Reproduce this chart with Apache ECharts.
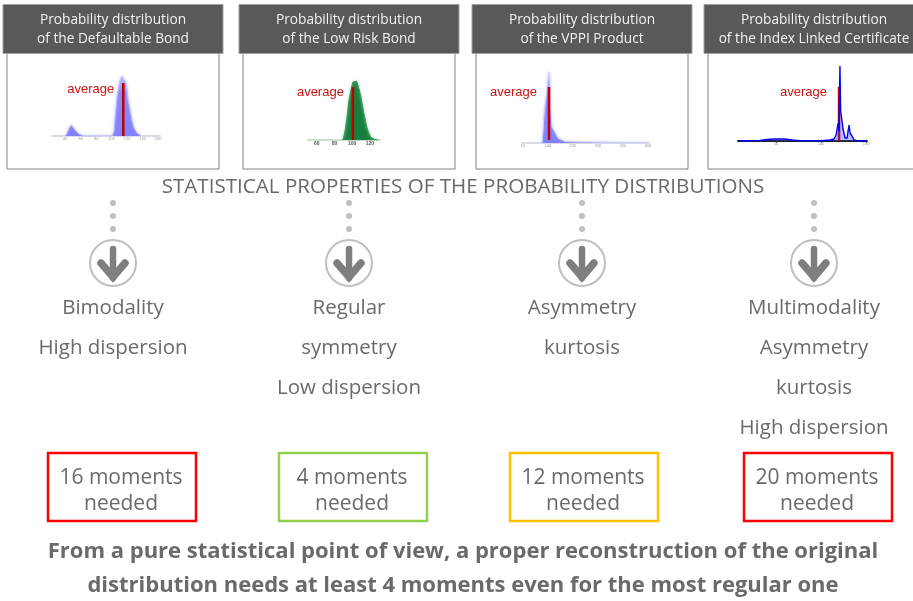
<!DOCTYPE html>
<html>
<head>
<meta charset="utf-8">
<title>Probability distributions</title>
<style>
  html, body { margin: 0; padding: 0; background: #fff; }
  #chart { width: 913px; height: 601px; }
</style>
<script src="https://cdn.jsdelivr.net/npm/echarts@6/dist/echarts.min.js"></script>
</head>
<body>
<div id="chart"></div>
<script>
// header titles
var headerLine1 = ['Probability distribution', 'Probability distribution', 'Probability distribution', 'Probability distribution']
var headerLine2 = ['of the Defaultable Bond', 'of the Low Risk Bond', 'of the VPPI Product', 'of the Index Linked Certificate']
var mainTitle = 'STATISTICAL PROPERTIES OF THE PROBABILITY DISTRIBUTIONS'

// [x, density]
var defaultableDist = [[40,0],[42.6,3],[45,8],[48,11],[50,9],[54,5],[58,2],[64.5,0],[100.6,0],[103,5],[104.5,20],[107,40],[110,54],[113.5,60],[116,61],[119,52],[121,38],[124,25],[126.5,15],[129,8],[133,3],[138,0]]
var lowRiskDist = [[89.4,0],[91.7,8],[94,22],[96,38],[98.5,50],[100.8,58],[103,60],[105,59],[107,54],[109.8,44],[112,33],[114.4,22],[116.6,13],[118.9,7],[121,3],[124.5,1],[129,0]]
var vppiDist = [[88,0],[90,12],[92,28],[94,38],[96,45],[98,55],[100,65],[102,71],[104,62],[106,30],[108,16],[112,14],[116,9],[120,5],[124,3],[134,1.5],[164,1],[204,0.8],[254,0.5],[300,0.3]]
var indexLinkedDist = [[8,0],[32,0.5],[40,1.5],[49,2],[60,2],[68,1],[77,0.3],[100,0.3],[110,1],[114.4,2],[116.7,6],[119,18],[120,10],[121,75],[121.8,30],[122,31],[123.3,20],[124.4,12],[126.7,3],[129,3],[130,10],[131.2,16],[132.2,8],[133.3,9],[134.4,5],[136.7,1],[141,0],[151,0]]

// average marker: x, bottom, top
var defaultableAvg = [115, 0, 53]
var lowRiskAvg = [100.8, 0, 53]
var vppiAvg = [102, 3, 56]
var indexLinkedAvg = [120, 0, 54]

// tick labels (the first, third and fourth are too blurred to read for sure)
var defaultableTicks = [40, 60, 80, 100, 120, 140, 160]
var lowRiskTicks = [60, 80, 100, 120]
var vppiTicks = [50, 100, 150, 200, 250, 300]
var indexLinkedTicks = [50, 100, 150]

// properties under each arrow
var properties = [
  ['Bimodality', 'High dispersion'],
  ['Regular', 'symmetry', 'Low dispersion'],
  ['Asymmetry', 'kurtosis'],
  ['Multimodality', 'Asymmetry', 'kurtosis', 'High dispersion']
]
var momentsLabels = ['16 moments', '4 moments', '12 moments', '20 moments']
var momentsWord = 'needed'
var footerLines = [
  'From a pure statistical point of view, a proper reconstruction of the original',
  'distribution needs at least 4 moments even for the most regular one'
]

var FONT = '"Open Sans", sans-serif'
var TEXT_GREY = '#6a6a6a'

// layout of the page
var headerX = [3, 239, 472, 704]
var frameX = [7, 243, 476, 708]
var arrowX = [113, 349, 582, 814]
var boxX = [48, 279, 510, 744]
var boxColor = ['#ff0000', '#92d050', '#ffc000', '#ff0000']
var boxTextX = [121, 352, 583, 817]

function makeText(text, x, y, size, color, weight) {
  return {
    type: 'text',
    style: {
      text: text, x: x, y: y,
      fontSize: size, fontFamily: FONT, fontWeight: weight || 'normal',
      fill: color, textAlign: 'center', textVerticalAlign: 'middle'
    }
  }
}

var graphics = []
for (var i = 0; i < 4; i++) {
  // frame of the plot, the last one runs off the page
  graphics.push({
    type: 'rect',
    shape: { x: frameX[i], y: 53, width: 212, height: 116 },
    style: { fill: 'none', stroke: '#808080', lineWidth: 1 }
  })
  graphics.push({
    type: 'rect',
    shape: { x: headerX[i], y: 4.5, width: 220, height: 49 },
    style: { fill: '#595959', stroke: '#a0a0a0', lineWidth: 1 }
  })
  var cx = i == 3 ? 814 : headerX[i] + 110
  graphics.push(makeText(headerLine1[i], cx, 20, 13.7, '#f2f2f2'))
  graphics.push(makeText(headerLine2[i], cx, 39, 13.7, '#f2f2f2'))

  // dots
  var dotsY = [203, 216, 229]
  for (var d = 0; d < 3; d++) {
    graphics.push({
      type: 'circle',
      shape: { cx: arrowX[i], cy: dotsY[d], r: 3 },
      style: { fill: '#bfbfbf' }
    })
  }
  // arrow in a circle
  graphics.push({
    type: 'circle',
    shape: { cx: arrowX[i], cy: 263, r: 23 },
    style: { fill: 'none', stroke: '#bfbfbf', lineWidth: 2 }
  })
  graphics.push({
    type: 'line',
    shape: { x1: arrowX[i], y1: 249, x2: arrowX[i], y2: 278 },
    style: { stroke: '#7f7f7f', lineWidth: 6.5, lineCap: 'round' }
  })
  graphics.push({
    type: 'polyline',
    shape: { points: [[arrowX[i] - 12, 263], [arrowX[i], 277], [arrowX[i] + 12, 263]] },
    style: { fill: 'none', stroke: '#7f7f7f', lineWidth: 7.5, lineCap: 'round', lineJoin: 'miter' }
  })

  for (var p = 0; p < properties[i].length; p++) {
    graphics.push(makeText(properties[i][p], arrowX[i], 308 + p * 40, 20.5, TEXT_GREY))
  }

  // moments box
  graphics.push({
    type: 'rect',
    shape: { x: boxX[i], y: 453, width: 148, height: 68 },
    style: { fill: 'none', stroke: boxColor[i], lineWidth: 2.5 }
  })
  graphics.push(makeText(momentsLabels[i], boxTextX[i], 478, 21, TEXT_GREY))
  graphics.push(makeText(momentsWord, boxTextX[i], 504, 21, TEXT_GREY))
}
graphics.push(makeText(mainTitle, 463, 187, 20.6, TEXT_GREY))
graphics.push(makeText(footerLines[0], 463, 552, 22, TEXT_GREY, 'bold'))
graphics.push(makeText(footerLines[1], 463, 586, 22, TEXT_GREY, 'bold'))

// lavender plots fade out towards the peak
var lavenderFill = {
  type: 'linear', x: 0, y: 1, x2: 0, y2: 0,
  colorStops: [
    { offset: 0, color: '#8080fb' },
    { offset: 0.7, color: '#8a8afb' },
    { offset: 1, color: '#c4c4fd' }
  ]
}

// one small plot: grid, axes, distribution and the average marker
var plots = [
  { dist: defaultableDist, avg: defaultableAvg, ticks: defaultableTicks, min: 23, max: 162.4, left: 52, width: 108, base: 136, fill: lavenderFill, line: '#c4c4fd', blur: '#a8a8ff', axis: '#dcdce8', avgLabelGap: 9, avgLabelDy: 6 },
  { dist: lowRiskDist, avg: lowRiskAvg, ticks: lowRiskTicks, min: 50, max: 131.5, left: 308, width: 72, base: 140, fill: '#15803c', line: '#3f9a60', blur: '#8fc8a3', axis: '#c9dfcd', avgLabelGap: 9, avgLabelDy: 5 },
  { dist: vppiDist, avg: vppiAvg, ticks: vppiTicks, min: 48, max: 302, left: 522, width: 127, base: 143, fill: lavenderFill, line: '#d0d0fd', blur: '#b8b8ff', axis: '#dcdce8', avgLabelGap: 12, avgLabelDy: 5 },
  { dist: indexLinkedDist, avg: indexLinkedAvg, ticks: indexLinkedTicks, min: 8, max: 151, left: 738, width: 129, base: 141, fill: 'rgba(60,60,255,0.35)', line: '#0000ff', blur: 'transparent', axis: '#222222', avgLabelGap: 12, avgLabelDy: 5 }
]

var grids = [], xAxes = [], yAxes = [], series = []
plots.forEach(function (pl, n) {
  grids.push({ left: pl.left, width: pl.width, top: pl.base - 80, height: 80 })
  xAxes.push({
    type: 'value', gridIndex: n, min: pl.min, max: pl.max,
    splitLine: { show: false },
    axisLine: { onZero: false, lineStyle: { color: pl.axis, width: n == 3 ? 2 : 2 } },
    axisTick: { show: n == 3, length: 2, customValues: pl.ticks, lineStyle: { color: '#444' } },
    axisLabel: {
      customValues: pl.ticks, margin: 1, fontSize: n == 1 ? 5 : 4,
      fontFamily: 'Liberation Sans',
      fontWeight: n == 1 ? 'bold' : 'normal',
      color: n == 1 ? '#555' : '#999'
    }
  })
  yAxes.push({ type: 'value', gridIndex: n, min: 0, max: 80, show: false })
  series.push({
    type: 'line', xAxisIndex: n, yAxisIndex: n, data: pl.dist,
    showSymbol: false, silent: true, animation: false,
    lineStyle: { color: pl.line, width: n == 3 ? 1.4 : 1, shadowBlur: n == 3 ? 0 : 3, shadowColor: pl.blur },
    areaStyle: { color: pl.fill, opacity: 1 },
    z: 3
  })
  series.push({
    type: 'line', xAxisIndex: n, yAxisIndex: n,
    data: [[pl.avg[0], pl.avg[1]], [pl.avg[0], pl.avg[2]]],
    symbol: 'circle', symbolSize: 0, silent: true, animation: false,
    lineStyle: { color: '#c00000', width: 2.5 },
    label: {
      show: true,
      formatter: function (o) { return o.dataIndex == 1 ? 'average' : '' },
      position: 'left', distance: pl.avgLabelGap, offset: [0, pl.avgLabelDy],
      color: '#c81414', fontSize: 13, fontFamily: 'Liberation Sans'
    },
    z: n == 3 ? 2 : 4
  })
})

var chart = echarts.init(document.getElementById('chart'))
chart.setOption({
  animation: false,
  backgroundColor: '#fff',
  grid: grids,
  xAxis: xAxes,
  yAxis: yAxes,
  series: series,
  graphic: graphics
})
</script>
</body>
</html>
